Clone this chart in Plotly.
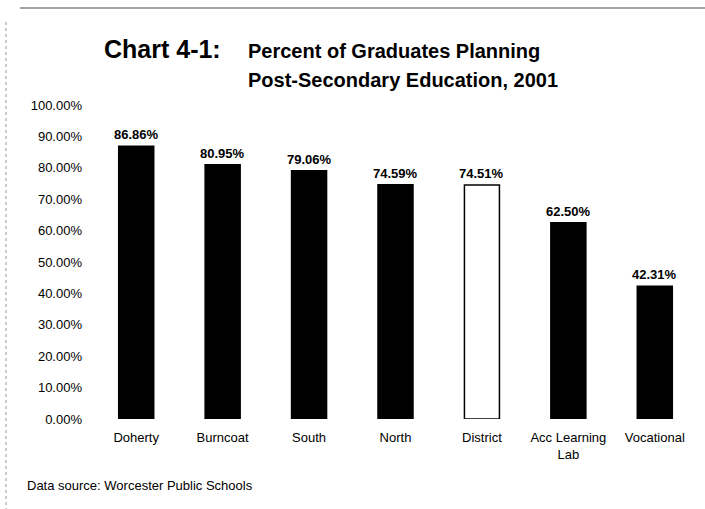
import plotly.graph_objects as go

# Graduates planning post-secondary education, by school (2001)
schools = ["Doherty", "Burncoat", "South", "North", "District",
           "Acc Learning<br>Lab", "Vocational"]
pct_planning = [86.86, 80.95, 79.06, 74.59, 74.51, 62.50, 42.31]
bar_fill = ["#000000", "#000000", "#000000", "#000000", "#ffffff",
            "#000000", "#000000"]
y_ticks = [0, 10, 20, 30, 40, 50, 60, 70, 80, 90, 100]
y_tick_labels = [f"{t:.2f}%" for t in y_ticks]

FONT = "Liberation Sans, Arial, Helvetica, sans-serif"
W, H = 705, 509
ML, MR, MT, MB = 93, 7, 105, 90
PW, PH = W - ML - MR, H - MT - MB


def px_x(x):
    return (x - ML) / PW


def px_y(y):
    return (H - MB - y) / PH


fig = go.Figure(go.Bar(
    x=schools,
    y=pct_planning,
    marker=dict(color=bar_fill, line=dict(color="#000000", width=1.5)),
    hoverinfo="skip",
))

# value labels above each bar
for name, v in zip(schools, pct_planning):
    fig.add_annotation(
        x=name, y=v, xref="x", yref="y",
        text=f"<b>{v:.2f}%</b>", showarrow=False,
        yanchor="bottom", yshift=2,
        font=dict(family=FONT, size=13, color="#000000"),
    )

# title block
fig.add_annotation(
    x=px_x(102), y=px_y(49), xref="paper", yref="paper",
    xanchor="left", yanchor="middle", showarrow=False,
    text="<b>Chart 4-1:</b>",
    font=dict(family=FONT, size=25, color="#000000"),
)
fig.add_annotation(
    x=px_x(246), y=px_y(51), xref="paper", yref="paper",
    xanchor="left", yanchor="middle", showarrow=False,
    text="<b>Percent of Graduates Planning</b>",
    font=dict(family=FONT, size=20, color="#000000"),
)
fig.add_annotation(
    x=px_x(246), y=px_y(80), xref="paper", yref="paper",
    xanchor="left", yanchor="middle", showarrow=False,
    text="<b>Post-Secondary Education, 2001</b>",
    font=dict(family=FONT, size=20, color="#000000"),
)
fig.add_annotation(
    x=px_x(25), y=px_y(485), xref="paper", yref="paper",
    xanchor="left", yanchor="middle", showarrow=False,
    text="Data source: Worcester Public Schools",
    font=dict(family=FONT, size=13, color="#000000"),
)

# page rules
fig.add_shape(type="line", xref="paper", yref="paper",
              x0=px_x(20), x1=px_x(705), y0=px_y(8), y1=px_y(8),
              line=dict(color="#444444", width=1.2))
fig.add_shape(type="line", xref="paper", yref="paper",
              x0=px_x(6), x1=px_x(6), y0=px_y(22), y1=px_y(509),
              line=dict(color="#999999", width=1, dash="dot"))

fig.update_layout(
    width=W, height=H,
    margin=dict(l=ML, r=MR, t=MT, b=MB, pad=0),
    paper_bgcolor="#ffffff", plot_bgcolor="#ffffff",
    bargap=0.595,
    showlegend=False,
    font=dict(family=FONT, size=13, color="#000000"),
    xaxis=dict(
        showgrid=False, zeroline=False, showline=False,
        ticks="", ticklabelstandoff=9,
        tickfont=dict(family=FONT, size=13, color="#000000"),
    ),
    yaxis=dict(
        range=[0, 100], tickvals=y_ticks, ticktext=y_tick_labels,
        showgrid=False, zeroline=False, showline=False,
        ticks="", ticklabelstandoff=10,
        tickfont=dict(family=FONT, size=13, color="#000000"),
    ),
)

fig.write_html("out.html")
